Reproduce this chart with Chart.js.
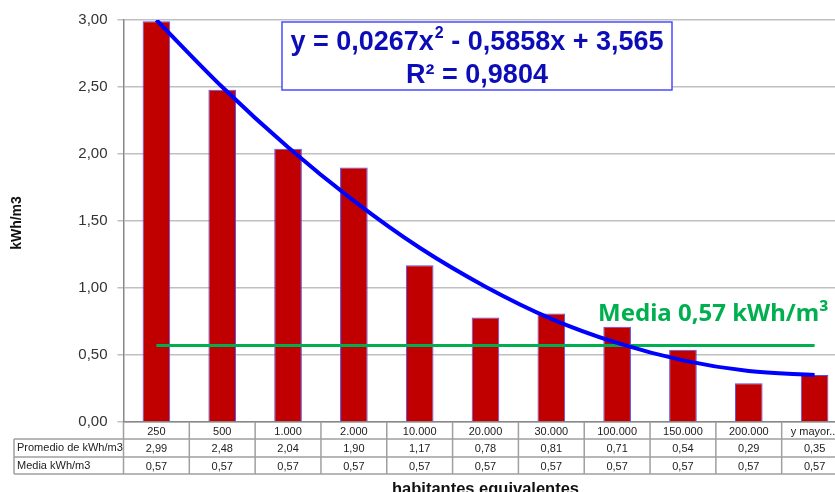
<!DOCTYPE html>
<html>
<head>
<meta charset="utf-8">
<script src="https://cdn.jsdelivr.net/npm/chart.js@4"></script>
<style>
  html, body { margin: 0; padding: 0; background: #fff; }
  #wrap { width: 835px; height: 492px; overflow: hidden; }
</style>
</head>
<body>
<div id="wrap"><canvas id="chart" width="852" height="492"></canvas></div>
<script>
// habitantes equivalentes
const categories = ['250', '500', '1.000', '2.000', '10.000', '20.000', '30.000', '100.000', '150.000', '200.000', 'y mayor...'];
// Promedio de kWh/m3
const promedio = [2.99, 2.48, 2.04, 1.90, 1.17, 0.78, 0.81, 0.71, 0.54, 0.29, 0.35];
// Media kWh/m3
const media = [0.57, 0.57, 0.57, 0.57, 0.57, 0.57, 0.57, 0.57, 0.57, 0.57, 0.57];
// polynomial trend line (2nd order)
const tendencia = [3.00, 2.50, 2.05, 1.65, 1.30, 1.01, 0.77, 0.59, 0.46, 0.38, 0.35];
const yTicks = [0, 0.5, 1, 1.5, 2, 2.5, 3];

const fmt = v => v.toFixed(2).replace('.', ',');

// data table under the x axis + annotations
const extras = {
    id: 'extras',
    afterDatasetsDraw(chart) {
        const { ctx } = chart;

        // trend equation box
        const bx = 282, by = 22, bw = 390, bh = 68;
        ctx.save();
        ctx.fillStyle = '#fff';
        ctx.fillRect(bx, by, bw, bh);
        ctx.strokeStyle = '#4b4bff';
        ctx.lineWidth = 1.5;
        ctx.strokeRect(bx, by, bw, bh);
        ctx.fillStyle = '#0c0cb8';
        ctx.textBaseline = 'alphabetic';
        const big = 'bold 27px "Liberation Sans", Arial, sans-serif';
        const small = 'bold 16px "Liberation Sans", Arial, sans-serif';
        const p1 = 'y = 0,0267x', p2 = '2', p3 = ' - 0,5858x + 3,565';
        ctx.font = big;
        const w1 = ctx.measureText(p1).width, w3 = ctx.measureText(p3).width;
        ctx.font = small;
        const w2 = ctx.measureText(p2).width + 1;
        const x0 = bx + bw / 2 - (w1 + w2 + w3) / 2;
        ctx.font = big;
        ctx.textAlign = 'left';
        ctx.fillText(p1, x0, 50);
        ctx.font = small;
        ctx.fillText(p2, x0 + w1 + 1, 38);
        ctx.font = big;
        ctx.fillText(p3, x0 + w1 + w2, 50);
        ctx.textAlign = 'center';
        ctx.fillText('R² = 0,9804', bx + bw / 2, 83);

        // media label
        ctx.fillStyle = '#00b050';
        ctx.font = 'bold 24px "Noto Sans", sans-serif';
        ctx.textAlign = 'left';
        ctx.fillText('Media 0,57 kWh/m³', 598, 321);
        ctx.restore();
    },
    afterDraw(chart) {
        const { ctx, chartArea: a, scales: { x } } = chart;
        const n = categories.length;
        const w = (a.right - a.left) / n;
        const r0 = a.bottom, r1 = r0 + 17, r2 = r1 + 18, r3 = r2 + 17;
        const tl = 14;
        ctx.save();
        ctx.strokeStyle = '#a0a0a0';
        ctx.lineWidth = 1.5;
        ctx.beginPath();
        [r1, r2, r3].forEach(y => { ctx.moveTo(tl, y); ctx.lineTo(a.right, y); });
        ctx.moveTo(tl, r1); ctx.lineTo(tl, r3);
        for (let i = 0; i <= n; i++) {
            const xx = a.left + i * w;
            ctx.moveTo(xx, r0); ctx.lineTo(xx, r3);
        }
        ctx.stroke();

        ctx.fillStyle = '#222';
        ctx.font = '11px "Liberation Sans", Arial, sans-serif';
        ctx.textBaseline = 'middle';
        ctx.textAlign = 'center';
        categories.forEach((c, i) => {
            const cx = x.getPixelForValue(i);
            ctx.fillText(c, cx, (r0 + r1) / 2 + 1);
            ctx.fillText(fmt(promedio[i]), cx, (r1 + r2) / 2 + 1);
            ctx.fillText(fmt(media[i]), cx, (r2 + r3) / 2 + 1);
        });
        ctx.textAlign = 'left';
        ctx.fillText('Promedio de kWh/m3', tl + 3, (r1 + r2) / 2);
        ctx.fillText('Media kWh/m3', tl + 3, (r2 + r3) / 2);

        // axis titles
        ctx.fillStyle = '#111';
        ctx.font = 'bold 16.5px "Liberation Sans", Arial, sans-serif';
        ctx.textAlign = 'center';
        ctx.fillText('habitantes equivalentes', (a.left + a.right) / 2, 489);
        ctx.translate(17.5, 223);
        ctx.rotate(-Math.PI / 2);
        ctx.font = 'bold 14px "Liberation Sans", Arial, sans-serif';
        ctx.fillText('kWh/m3', 0, 0);
        ctx.restore();
    }
};

const data = {
    labels: categories,
    datasets: [
        {
            type: 'line',
            label: 'Polinómica (Promedio de kWh/m3)',
            data: tendencia,
            borderColor: '#0000ff',
            borderWidth: 4,
            pointRadius: 0,
            cubicInterpolationMode: 'monotone',
            order: 1
        },
        {
            type: 'line',
            label: 'Media kWh/m3',
            data: media,
            borderColor: '#00b050',
            borderWidth: 3,
            pointRadius: 0,
            order: 2
        },
        {
            type: 'bar',
            label: 'Promedio de kWh/m3',
            data: promedio,
            backgroundColor: '#c00000',
            borderColor: '#5050ff',
            borderWidth: 1,
            categoryPercentage: 1,
            barPercentage: 0.42,
            order: 3
        }
    ]
};

const config = {
    type: 'bar',
    data: data,
    options: {
        responsive: false,
        animation: false,
        layout: { padding: { top: 20, left: 0, right: 4.5, bottom: 0 } },
        scales: {
            x: {
                offset: true,
                ticks: { display: false },
                grid: { display: false },
                border: { display: true, color: '#888', width: 1.5 },
                afterFit: s => { s.height = 70; }
            },
            y: {
                min: 0,
                max: 3,
                afterBuildTicks: s => { s.ticks = yTicks.map(v => ({ value: v })); },
                ticks: {
                    callback: v => fmt(v),
                    color: '#333',
                    padding: 10,
                    font: { family: '"Liberation Sans", Arial, sans-serif', size: 15 }
                },
                grid: { color: '#c0c0c0', lineWidth: 1.5, tickLength: 6 },
                border: { color: '#888', width: 1.5 },
                afterFit: s => { s.width = 123.5; }
            }
        },
        plugins: {
            legend: { display: false },
            tooltip: { enabled: false }
        }
    },
    plugins: [extras]
};

new Chart(document.querySelector('#chart'), config);
</script>
</body>
</html>
